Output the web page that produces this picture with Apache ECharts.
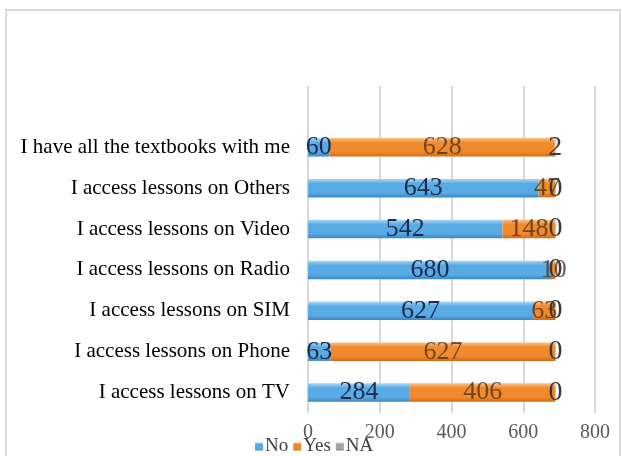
<!DOCTYPE html>
<html>
<head>
<meta charset="utf-8">
<script src="https://cdn.jsdelivr.net/npm/echarts@6/dist/echarts.min.js"></script>
<style>
  html, body { margin: 0; padding: 0; background: #fff; }
  #chart { width: 622px; height: 456px; }
</style>
</head>
<body>
<div id="chart"></div>
<script>
// Survey statements, bottom to top; the last slot is an empty row above the bars
const categories = [
  'I access lessons on TV',
  'I access lessons on Phone',
  'I access lessons on SIM',
  'I access lessons on Radio',
  'I access lessons on Video',
  'I access lessons on Others',
  'I have all the textbooks with me',
  ''
];
const noValues  = [284, 63, 627, 680, 542, 643, 60, null];
const yesValues = [406, 627, 63, 10, 148, 47, 628, null];
const naValues  = [0, 0, 0, 0, 0, 0, 2, null];
const xTicks = { min: 0, max: 800, interval: 200 };

const serif = '"Liberation Serif", "Times New Roman", serif';

function bevel(top, mid, bottom) {
  return {
    type: 'linear', x: 0, y: 0, x2: 0, y2: 1,
    colorStops: [
      { offset: 0, color: top },
      { offset: 0.25, color: mid },
      { offset: 0.75, color: mid },
      { offset: 1, color: bottom }
    ]
  };
}

function barSeries(name, data, fill, labelColor, labelSize) {
  return {
    name: name,
    type: 'bar',
    stack: 'total',
    barWidth: '45%',
    data: data,
    itemStyle: { color: fill },
    label: {
      show: true,
      position: 'inside',
      fontFamily: serif,
      fontSize: labelSize,
      color: labelColor,
      formatter: p => (p.value == null ? '' : String(p.value))
    },
    emphasis: { disabled: true }
  };
}

const chart = echarts.init(document.getElementById('chart'));
chart.setOption({
  animation: false,
  backgroundColor: '#ffffff',
  graphic: [{
    type: 'rect',
    shape: { x: 6, y: 10, width: 614, height: 470 },
    style: { fill: 'none', stroke: '#d9d9d9', lineWidth: 2 },
    silent: true,
    z: -1
  }],
  grid: { left: 308, right: 27, top: 86, bottom: 43, containLabel: false },
  legend: {
    top: 432,
    left: 250,
    itemWidth: 8,
    itemHeight: 8,
    itemGap: 5,
    icon: 'rect',
    textStyle: { fontFamily: serif, fontSize: 19, color: '#404040', padding: [0, 0, 0, -3] },
    data: ['No', 'Yes', 'NA']
  },
  xAxis: {
    type: 'value',
    min: xTicks.min,
    max: xTicks.max,
    interval: xTicks.interval,
    axisLine: { show: false },
    axisTick: { show: false },
    splitLine: { show: true, lineStyle: { color: '#d9d9d9', width: 2 } },
    axisLabel: { fontFamily: serif, fontSize: 20, color: '#595959', margin: 10 }
  },
  yAxis: {
    type: 'category',
    data: categories,
    axisLine: { show: false },
    axisTick: { show: false },
    axisLabel: { fontFamily: serif, fontSize: 21, color: '#000000', margin: 18 }
  },
  series: [
    barSeries('No', noValues, bevel('#a9d6f3', '#58abe4', '#3b87c6'), '#1c2b4a', 26),
    barSeries('Yes', yesValues, bevel('#f8c08c', '#f18a2c', '#d26c16'), 'rgba(80,50,25,0.8)', 26),
    barSeries('NA', naValues, bevel('#d0d0d0', '#a5a5a5', '#808080'), '#3a3a3a', 28)
  ],
  color: ['#4a9fdc', '#f08a2a', '#a5a5a5']
});
</script>
</body>
</html>
